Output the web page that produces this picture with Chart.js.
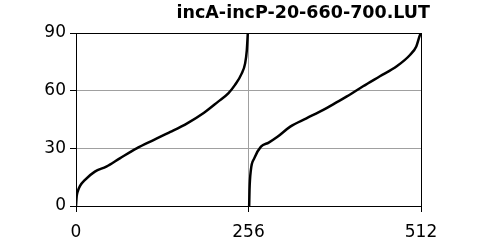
<!DOCTYPE html>
<html>
<head>
<meta charset="utf-8">
<title>incA-incP-20-660-700.LUT</title>
<script src="https://cdn.jsdelivr.net/npm/chart.js@4"></script>
<style>
  body { margin: 0; background: #fff; }
  canvas { display: block; }
</style>
</head>
<body>
<canvas id="lutChart" width="480" height="241"></canvas>
<script>
'use strict';
// values
var chartTitle = 'incA-incP-20-660-700.LUT';
var xTicks = [0, 256, 512];
var yTicks = [0, 30, 60, 90];

// first branch (index 0..255)
var xFirst = [0, 1, 3, 6, 13, 28, 45, 65, 90, 115, 140, 165, 190, 211, 226, 236, 246, 251, 253.5, 255];
var yFirst = [0, 5, 8, 10.5, 13.5, 17.9, 20.5, 24.8, 30, 34.3, 38.5, 43, 48.5, 54.3, 58.6, 63, 69, 74.2, 81, 90];

// second branch (index 257..512)
var xSecond = [257, 257.5, 259.5, 264.5, 274.5, 286, 299, 318, 342, 367, 384, 402, 426, 451, 476, 496, 505, 510.5, 512];
var ySecond = [0, 8.3, 18.7, 24.8, 30.9, 33, 36, 41.3, 45.6, 50, 53.4, 57, 62.3, 67.5, 72.7, 78.7, 83, 89, 90];

var gridGray = '#a0a0a0';
var tickFont = { family: 'DejaVu Sans', size: 17 };

function toPoints(xs, ys) {
  var pts = [];
  for (var i = 0; i < xs.length; i++) {
    pts.push({ x: xs[i], y: ys[i] });
  }
  return pts;
}

// title sits right aligned past the plot edge, so draw it ourselves
var titlePlugin = {
  id: 'rightTitle',
  afterDraw: function(chart) {
    var c = chart.ctx;
    c.save();
    c.font = 'bold 17.5px "DejaVu Sans"';
    c.fillStyle = '#000';
    c.textAlign = 'right';
    c.textBaseline = 'alphabetic';
    c.fillText(chartTitle, 430, 18);
    c.restore();
  }
};

var ctx = document.getElementById('lutChart');
var lineStyle = {
  borderColor: '#000',
  borderWidth: 2.5,
  pointRadius: 0,
  cubicInterpolationMode: 'monotone',
  fill: false
};

new Chart(ctx, {
  type: 'line',
  data: {
    datasets: [
      Object.assign({ data: toPoints(xFirst, yFirst) }, lineStyle),
      Object.assign({ data: toPoints(xSecond, ySecond) }, lineStyle)
    ]
  },
  options: {
    responsive: false,
    animation: false,
    devicePixelRatio: 1,
    layout: { padding: { top: 33, right: 59, left: 0, bottom: 0 } },
    plugins: {
      legend: { display: false },
      tooltip: { enabled: false },
      title: { display: false }
    },
    scales: {
      x: {
        type: 'linear',
        min: 0,
        max: 512,
        afterBuildTicks: function(scale) {
          scale.ticks = xTicks.map(function(v) { return { value: v }; });
        },
        afterFit: function(scale) { scale.height = 35; },
        grid: {
          color: function(c) { return c.tick && c.tick.value === 256 ? gridGray : '#000'; },
          tickColor: '#000',
          tickLength: 6,
          lineWidth: 1
        },
        border: { color: '#000', width: 1 },
        ticks: { color: '#000', font: tickFont, padding: 10, maxRotation: 0 }
      },
      y: {
        type: 'linear',
        min: 0,
        max: 90,
        afterBuildTicks: function(scale) {
          scale.ticks = yTicks.map(function(v) { return { value: v }; });
        },
        afterFit: function(scale) { scale.width = 76; },
        grid: {
          color: function(c) {
            if (!c.tick) return gridGray;
            return (c.tick.value === 0 || c.tick.value === 90) ? '#000' : gridGray;
          },
          tickColor: '#000',
          tickLength: 6,
          lineWidth: 1
        },
        border: { color: '#000', width: 1 },
        ticks: { color: '#000', font: tickFont, padding: 4 }
      }
    }
  },
  plugins: [titlePlugin]
});
</script>
</body>
</html>
